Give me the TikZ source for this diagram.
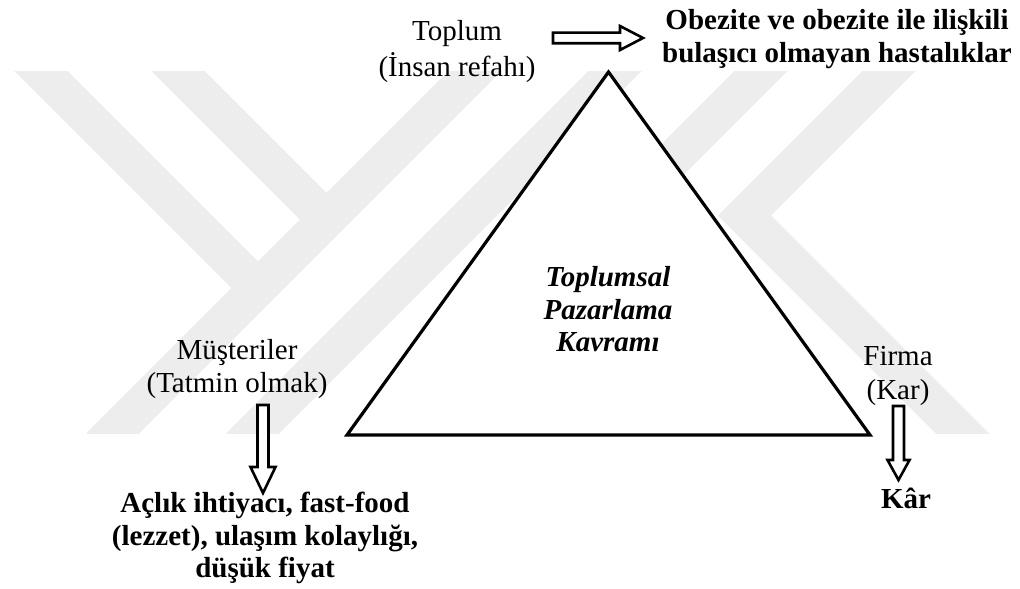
\documentclass[tikz,border=0pt]{standalone}
\usepackage{fontspec}
\setmainfont{Liberation Serif}
\usetikzlibrary{calc}
\definecolor{wm}{RGB}{237,237,237}

% hollow block arrow pointing right: tail, tip, head length, head half width, shaft half width
\newcommand{\rightblock}[5]{%
  \draw[blockarrow] ($(#1)+(0,-#5)$) -- ($(#2)+(-#3,-#5)$) -- ($(#2)+(-#3,-#4)$) -- (#2)
    -- ($(#2)+(-#3,#4)$) -- ($(#2)+(-#3,#5)$) -- ($(#1)+(0,#5)$) -- cycle;}
% hollow block arrow pointing down
\newcommand{\downblock}[5]{%
  \draw[blockarrow] ($(#1)+(-#5,0)$) -- ($(#2)+(-#5,-#3)$) -- ($(#2)+(-#4,-#3)$) -- (#2)
    -- ($(#2)+(#4,-#3)$) -- ($(#2)+(#5,-#3)$) -- ($(#1)+(#5,0)$) -- cycle;}

\begin{document}
\begin{tikzpicture}[x=0.5pt,y=-0.5pt,
  txt/.style={font=\fontsize{14.5}{16.25}\selectfont, align=center, inner sep=0pt},
  btxt/.style={txt, font=\fontsize{14.5}{16.25}\selectfont\bfseries},
  bitxt/.style={txt, font=\fontsize{14.5}{16.25}\selectfont\bfseries\itshape},
  blockarrow/.style={draw=black, line width=1.3pt, fill=white, line join=miter},
  wmband/.style={draw=wm, line width=18.75pt, line cap=butt},
  tri/.style={draw=black, line width=1.6pt, fill=white, line join=miter}]

\fill[white] (0,0) rectangle (1020,588);
\useasboundingbox (0,0) rectangle (1020,588);

% faint background emblem
\begin{scope}
  \clip (0,72) rectangle (1020,433);
  \draw[wmband] (100,446) -- (490,56);
  \draw[wmband] (10,40) -- (258,288);
  \draw[wmband] (147,40) -- (326.5,219.5);
  \draw[wmband] (240,446) -- (630,56);
  \draw[wmband] (776,56) -- (560,272);
  \draw[wmband, line join=miter] (904,56) -- (744.5,215.5) -- (978,449);
\end{scope}

% triangle
\coordinate (apex) at (608.5,72);
\coordinate (bl) at (347,435);
\coordinate (br) at (870,435);
\draw[tri] (bl) -- (apex) -- (br) -- cycle;

% labels
\node[txt] (toplum) at (457,51.5) {Toplum\\[1.5pt](İnsan refahı)};
\node[btxt] (obez) at (837,39) {Obezite ve obezite ile ilişkili\\bulaşıcı olmayan hastalıklar};
\node[bitxt] (kavram) at (608,309.5) {Toplumsal\\Pazarlama\\Kavramı};
\node[txt] (musteri) at (237,369) {Müşteriler\\(Tatmin olmak)};
\node[btxt] (aclik) at (265,538) {Açlık ihtiyacı, fast-food\\(lezzet), ulaşım kolaylığı,\\düşük fiyat};
\node[txt] (firma) at (898,376) {Firma\\[1pt](Kar)};
\node[btxt] (kar) at (906,498) {Kâr};

% arrow ends
\coordinate (a1s) at (553,38);
\coordinate (a1e) at (643,38);
\coordinate (a2s) at (263,405);
\coordinate (a2e) at (263,493);
\coordinate (a3s) at (898.5,406);
\coordinate (a3e) at (898.5,480);

\rightblock{a1s}{a1e}{23}{12}{5.3}
\downblock{a2s}{a2e}{26}{12.5}{5.5}
\downblock{a3s}{a3e}{20}{11}{5.5}

\end{tikzpicture}
\end{document}
